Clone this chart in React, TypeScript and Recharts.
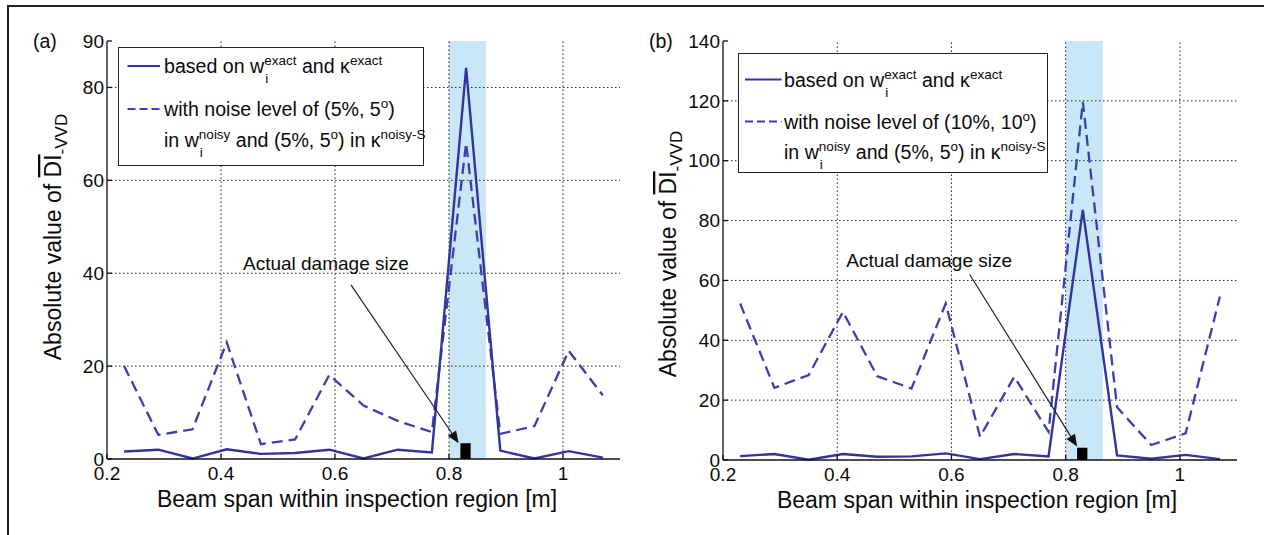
import React from 'react';
import {
  LineChart,
  Line,
  XAxis,
  YAxis,
  ReferenceArea,
  ReferenceLine,
  ReferenceDot,
  Legend,
} from 'recharts';

const FONT = '"Liberation Sans", Arial, Helvetica, sans-serif';
const SOLID = '#33339e';
const DASHED = '#3d3db2';
const INK = '#0a0a0a';

// beam span positions [m]
const spans = [0.23, 0.29, 0.35, 0.41, 0.47, 0.53, 0.59, 0.65, 0.71, 0.77, 0.83, 0.89, 0.95, 1.01, 1.07];

// (a) noise level (5%, 5deg)
const exactA = [1.6, 2.0, 0.1, 2.1, 1.1, 1.3, 2.0, 0.1, 2.0, 1.4, 84.2, 1.8, 0.1, 1.7, 0.3];
const noisyA = [20, 5.2, 6.4, 25.1, 3.2, 4.2, 18.1, 11.5, 8.2, 5.8, 68, 5.4, 7.1, 23.3, 13.7];

// (b) noise level (10%, 10deg)
const exactB = [1.3, 2.0, 0.1, 2.0, 1.1, 1.2, 2.2, 0.3, 2.0, 1.2, 83.6, 1.5, 0.4, 1.7, 0.3];
const noisyB = [52.3, 24.1, 28.4, 49.5, 28, 23.9, 52.3, 7.8, 27.8, 9.4, 119.7, 17.6, 5, 8.9, 54.6];

const xTicks = [0.2, 0.4, 0.6, 0.8, 1];
const yTicksA = [0, 20, 40, 60, 80, 90];
const yTicksB = [0, 20, 40, 60, 80, 100, 120, 140];

// inspection band and actual damage
const damageBand = [0.8, 0.865];
const damageBlock = [0.82, 0.838];

const toRows = (ex: number[], no: number[]) =>
  spans.map((x, i) => ({ x, exact: ex[i], noisy: no[i] }));

const SupSub = ({ sup, sub }: { sup: string; sub: string }) => (
  <span style={{ position: 'relative', display: 'inline-block', fontSize: 13.5 }}>
    <span style={{ position: 'relative', top: -8 }}>{sup}</span>
    <span style={{ position: 'absolute', left: 1, top: 10 }}>{sub}</span>
  </span>
);
const Sup = ({ t }: { t: string }) => (
  <span style={{ position: 'relative', top: -8, fontSize: 13.5 }}>{t}</span>
);
const Deg = () => <Sup t="o" />;

function LegendBox({ cfg }: { cfg: any }) {
  const row = (y: number, children: React.ReactNode) => (
    <div
      style={{
        position: 'absolute',
        left: cfg.textX,
        top: y - 11,
        lineHeight: '22px',
        fontSize: 19.6,
        whiteSpace: 'nowrap',
        color: INK,
      }}
    >
      {children}
    </div>
  );
  return (
    <div
      style={{
        position: 'relative',
        width: cfg.w,
        height: cfg.h,
        boxSizing: 'border-box',
        border: '1.5px solid #222',
        background: '#fff',
        fontFamily: FONT,
      }}
    >
      <svg style={{ position: 'absolute', left: 0, top: 0 }} width={cfg.w} height={cfg.h}>
        <line x1={cfg.sample[0]} x2={cfg.sample[1]} y1={cfg.rows[0]} y2={cfg.rows[0]} stroke={SOLID} strokeWidth={2.2} />
        <line
          x1={cfg.sample[0]}
          x2={cfg.sample[1]}
          y1={cfg.rows[1]}
          y2={cfg.rows[1]}
          stroke={DASHED}
          strokeWidth={2.2}
          strokeDasharray="8 4"
        />
      </svg>
      {row(cfg.rows[0], <>based on w<SupSub sup="exact" sub="i" /> and κ<Sup t="exact" /></>)}
      {row(cfg.rows[1], <>with noise level of ({cfg.noise}%, {cfg.noise}<Deg />)</>)}
      {row(cfg.rows[2], <>in w<SupSub sup="noisy" sub="i" /> and (5%, 5<Deg />) in κ<Sup t="noisy-S" /></>)}
    </div>
  );
}

const Arrow = (p: any) => {
  const { x1, y1, x2, y2 } = p;
  const a = Math.atan2(y2 - y1, x2 - x1);
  const L = 12;
  const W = 5;
  const bx = x2 - L * Math.cos(a);
  const by = y2 - L * Math.sin(a);
  const pts = `${x2},${y2} ${bx + W * Math.sin(a)},${by - W * Math.cos(a)} ${bx - W * Math.sin(a)},${by + W * Math.cos(a)}`;
  return (
    <g>
      <line x1={x1} y1={y1} x2={bx} y2={by} stroke="#222" strokeWidth={1.2} />
      <polygon points={pts} fill="#111" />
    </g>
  );
};

const Note = (p: any) => (
  <text x={p.cx} y={p.cy + 7} textAnchor="middle" fontSize={19} fontFamily={FONT} fill={INK}>
    Actual damage size
  </text>
);

function Panel({ cfg }: { cfg: any }) {
  const data = toRows(cfg.exact, cfg.noisy);
  const tick = { fontSize: 19, fill: INK, fontFamily: FONT };
  const axisLine = { stroke: '#111', strokeWidth: 1.3 };
  const grid = { stroke: '#222', strokeWidth: 1, strokeDasharray: '1.5 2.5' };
  return (
    <div style={{ position: 'absolute', left: cfg.left, top: 0 }}>
      <LineChart width={cfg.width} height={535} data={data} margin={cfg.margin}>
        <ReferenceArea x1={damageBand[0]} x2={damageBand[1]} fill="#c9e7f7" fillOpacity={1} stroke="none" />
        {xTicks.slice(1).map((v) => (
          <ReferenceLine key={`gx${v}`} x={v} {...grid} />
        ))}
        {cfg.yTicks.slice(1, -1).map((v: number) => (
          <ReferenceLine key={`gy${v}`} y={v} {...grid} />
        ))}
        <XAxis
          dataKey="x"
          type="number"
          domain={[0.2, 1.1]}
          ticks={xTicks}
          tickFormatter={(v: number) => String(v)}
          height={40}
          tick={tick}
          tickSize={-5}
          tickMargin={13}
          axisLine={axisLine}
          tickLine={axisLine}
          label={{
            content: () => (
              <text x={cfg.xTitle[0]} y={cfg.xTitle[1]} textAnchor="middle" fontSize={23} fontFamily={FONT} fill={INK}>
                Beam span within inspection region [m]
              </text>
            ),
          }}
        />
        <XAxis
          xAxisId="top"
          orientation="top"
          dataKey="x"
          type="number"
          domain={[0.2, 1.1]}
          ticks={xTicks}
          height={0}
          tick={false}
          tickSize={-5}
          axisLine={axisLine}
          tickLine={axisLine}
        />
        <YAxis
          type="number"
          domain={cfg.yDomain}
          ticks={cfg.yTicks}
          width={60}
          tick={tick}
          tickSize={-5}
          tickMargin={8}
          axisLine={axisLine}
          tickLine={axisLine}
          label={{
            content: () => (
              <text
                x={cfg.yTitle[0]}
                y={cfg.yTitle[1]}
                transform={`rotate(-90, ${cfg.yTitle[0]}, ${cfg.yTitle[1]})`}
                textAnchor="middle"
                fontSize={23}
                fontFamily={FONT}
                fill={INK}
              >
                Absolute value of <tspan style={{ textDecoration: 'overline' }}>DI</tspan>
                <tspan dy={6} fontSize={17}>-VVD</tspan>
              </text>
            ),
          }}
        />
        <YAxis
          yAxisId="right"
          orientation="right"
          type="number"
          domain={cfg.yDomain}
          ticks={cfg.yTicks}
          width={0}
          tick={false}
          tickSize={-5}
          axisLine={axisLine}
          tickLine={axisLine}
        />
        <Line
          dataKey="noisy"
          type="linear"
          stroke={DASHED}
          strokeWidth={2.3}
          strokeDasharray="11 6"
          dot={false}
          isAnimationActive={false}
        />
        <Line dataKey="exact" type="linear" stroke={SOLID} strokeWidth={2.4} dot={false} isAnimationActive={false} />
        <ReferenceArea
          x1={damageBlock[0]}
          x2={damageBlock[1]}
          y1={0}
          y2={cfg.blockTop}
          fill="#000"
          fillOpacity={1}
          stroke="none"
        />
        <ReferenceLine
          segment={[
            { x: cfg.arrowFrom[0], y: cfg.arrowFrom[1] },
            { x: cfg.arrowTo[0], y: cfg.arrowTo[1] },
          ]}
          shape={Arrow}
        />
        <ReferenceDot x={cfg.note[0]} y={cfg.note[1]} r={0} shape={Note} />
        <Legend
          layout="horizontal"
          verticalAlign="middle"
          align="center"
          content={() => <LegendBox cfg={cfg.legend} />}
          wrapperStyle={{ left: cfg.legend.x, top: cfg.legend.y, width: cfg.legend.w, height: cfg.legend.h }}
        />
      </LineChart>
      <div
        style={{
          position: 'absolute',
          left: cfg.tag[0],
          top: 30,
          lineHeight: '22px',
          fontSize: 19.5,
          fontFamily: FONT,
          color: INK,
        }}
      >
        {cfg.tag[1]}
      </div>
    </div>
  );
}

const panelA = {
  left: 0,
  width: 640,
  margin: { top: 41, right: 20, bottom: 36, left: 47 },
  exact: exactA,
  noisy: noisyA,
  yDomain: [0, 90],
  yTicks: yTicksA,
  blockTop: 3.4,
  arrowFrom: [0.628, 37.5],
  arrowTo: [0.817, 3.4],
  note: [0.584, 42.1],
  xTitle: [357, 507],
  yTitle: [61, 237],
  tag: [33, '(a)'],
  legend: { x: 118, y: 47, w: 306, h: 119, rows: [18, 61, 91.6], sample: [8.5, 41], textX: 45, noise: 5 },
};

const panelB = {
  left: 630,
  width: 634,
  margin: { top: 41, right: 27, bottom: 35, left: 33 },
  exact: exactB,
  noisy: noisyB,
  yDomain: [0, 140],
  yTicks: yTicksB,
  blockTop: 4.1,
  arrowFrom: [0.632, 62],
  arrowTo: [0.82, 4.5],
  note: [0.561, 66.7],
  xTitle: [347, 508],
  yTitle: [46, 254],
  tag: [19, '(b)'],
  legend: { x: 108, y: 53, w: 310, h: 120, rows: [25.5, 67.5, 98], sample: [6, 42.6], textX: 45, noise: 10 },
};

export default function App() {
  return (
    <div
      style={{
        position: 'absolute',
        left: 0,
        top: 0,
        width: 1264,
        height: 535,
        background: '#fff',
        fontFamily: FONT,
        overflow: 'hidden',
      }}
    >
      <div
        style={{
          position: 'absolute',
          left: 7,
          top: 5,
          width: 1264,
          height: 540,
          borderTop: '2px solid #222',
          borderLeft: '2px solid #222',
        }}
      />
      <Panel cfg={panelA} />
      <Panel cfg={panelB} />
    </div>
  );
}
